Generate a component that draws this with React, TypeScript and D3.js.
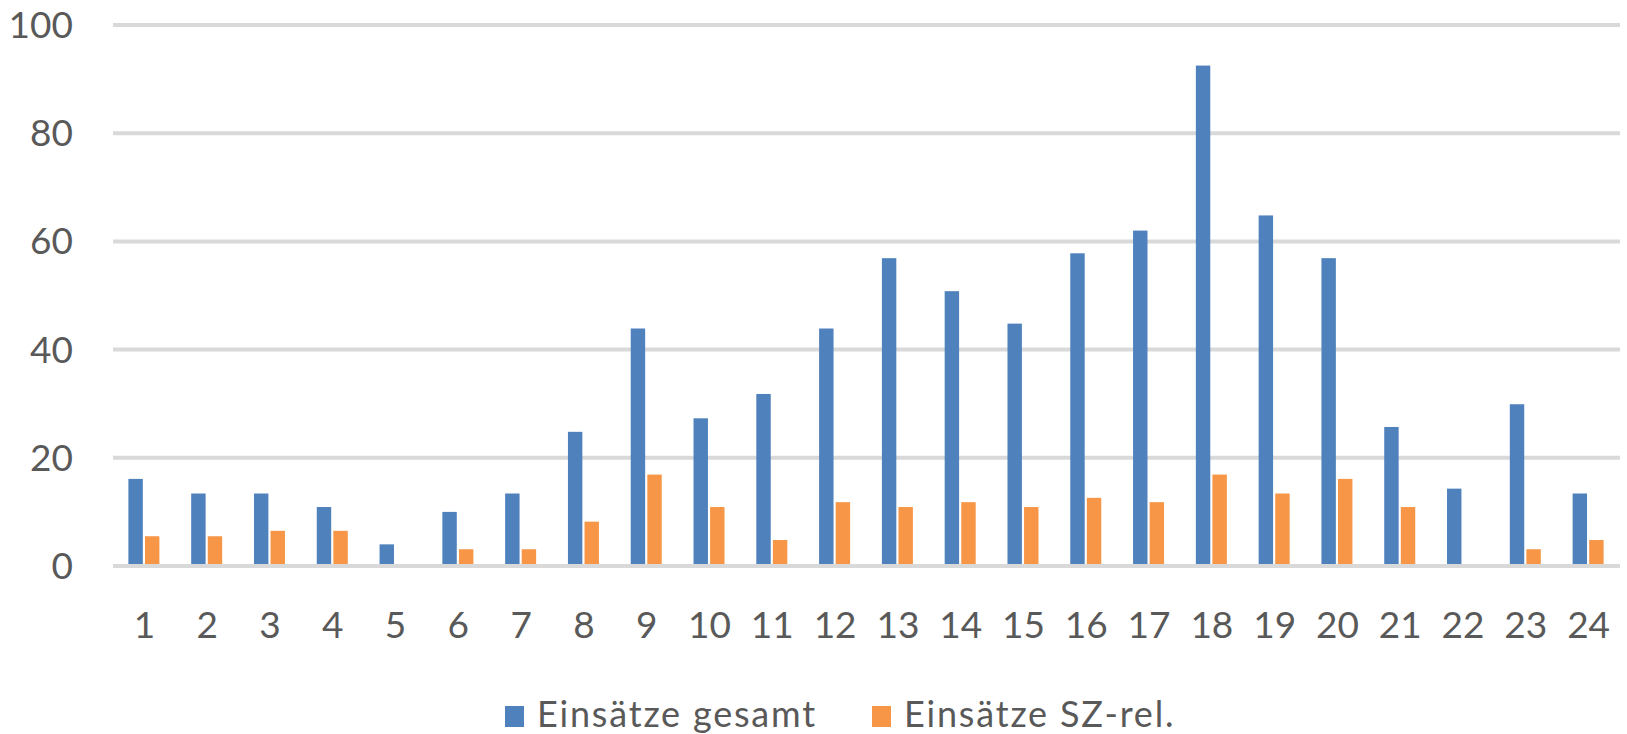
import { useEffect, useRef } from "react";
import * as d3 from "d3";

const hours = [
  "1", "2", "3", "4", "5", "6", "7", "8", "9", "10", "11", "12",
  "13", "14", "15", "16", "17", "18", "19", "20", "21", "22", "23", "24",
];

const gesamt = [
  16.1, 13.4, 13.4, 10.9, 4.0, 10.0, 13.4, 24.8, 43.9, 27.3, 31.8, 43.9,
  56.9, 50.8, 44.8, 57.8, 62.0, 92.5, 64.8, 56.9, 25.7, 14.3, 29.9, 13.4,
];

const szRel = [
  5.5, 5.5, 6.5, 6.5, 0, 3.1, 3.1, 8.2, 16.9, 10.9, 4.8, 11.8,
  10.9, 11.8, 10.9, 12.6, 11.8, 16.9, 13.4, 16.1, 10.9, 0, 3.1, 4.8,
];

const yTicks = [0, 20, 40, 60, 80, 100];

const seriesNames = ["Einsätze gesamt", "Einsätze SZ-rel."];
const seriesColors = ["#4F81BD", "#F79646"];

export default function App() {
  const svgRef = useRef<SVGSVGElement>(null);

  useEffect(() => {
    if (!svgRef.current) return;
    const svg = d3.select(svgRef.current);
    svg.selectAll("*").remove();

    const W = 1627;
    const H = 734;
    const left = 113;
    const right = 1620;
    const font = "Lato, 'Open Sans', sans-serif";
    const textColor = "#595959";

    const x = d3.scaleBand().domain(hours).range([left, right]).padding(0);
    const group = 31;
    const x1 = d3
      .scaleBand()
      .domain(["0", "1"])
      .range([-group / 2, group / 2])
      .paddingInner(0.13);

    const y = d3.scaleLinear().domain([0, 100]).range([566, 25]);

    // gridlines
    svg
      .append("g")
      .selectAll("line")
      .data(yTicks)
      .enter()
      .append("line")
      .attr("x1", left)
      .attr("x2", right)
      .attr("y1", (d) => y(d))
      .attr("y2", (d) => y(d))
      .attr("stroke", "#D9D9D9")
      .attr("stroke-width", 4);

    // y labels
    svg
      .append("g")
      .selectAll("text")
      .data(yTicks)
      .enter()
      .append("text")
      .attr("x", 73)
      .attr("y", (d) => y(d))
      .attr("dy", "0.35em")
      .attr("text-anchor", "end")
      .attr("font-family", font)
      .attr("font-size", "37px")
      .attr("fill", textColor)
      .text((d) => String(d));

    // bars
    const series = [gesamt, szRel];
    series.forEach((vals, si) => {
      svg
        .append("g")
        .selectAll("rect")
        .data(vals)
        .enter()
        .append("rect")
        .attr("x", (_, i) => (x(hours[i]) ?? 0) + x.bandwidth() / 2 - 0.5 + (x1(String(si)) ?? 0))
        .attr("y", (d) => y(d))
        .attr("width", x1.bandwidth())
        .attr("height", (d) => y(0) - y(d) - 2)
        .attr("fill", seriesColors[si]);
    });

    // x labels
    svg
      .append("g")
      .selectAll("text")
      .data(hours)
      .enter()
      .append("text")
      .attr("x", (d) => (x(d) ?? 0) + x.bandwidth() / 2)
      .attr("y", 638)
      .attr("text-anchor", "middle")
      .attr("font-family", font)
      .attr("font-size", "37px")
      .attr("fill", textColor)
      .text((d) => d);

    // legend
    const legendX = [505, 872];
    const lg = svg
      .append("g")
      .selectAll("g")
      .data(seriesNames)
      .enter()
      .append("g")
      .attr("transform", (_, i) => `translate(${legendX[i]},0)`);

    lg.append("rect")
      .attr("x", 0)
      .attr("y", 706)
      .attr("width", 19)
      .attr("height", 21)
      .attr("fill", (_, i) => seriesColors[i]);

    lg.append("text")
      .attr("x", 32)
      .attr("y", 727)
      .attr("font-family", font)
      .attr("font-size", "36px")
      .attr("letter-spacing", "1.8px")
      .attr("fill", textColor)
      .text((d) => d);

    svg.attr("viewBox", `0 0 ${W} ${H}`);
  }, []);

  return (
    <svg
      ref={svgRef}
      width={1627}
      height={734}
      style={{ position: "absolute", left: 0, top: 0, background: "#fff" }}
    />
  );
}
